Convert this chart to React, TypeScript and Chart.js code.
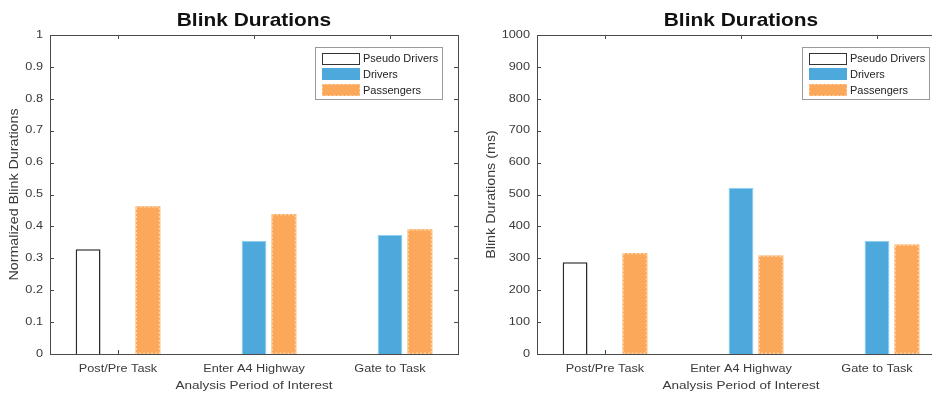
import React, { useEffect, useRef } from "react";
import { Chart, registerables } from "chart.js";
Chart.register(...registerables);

const categories = ["Post/Pre Task", "Enter A4 Highway", "Gate to Task"];
const seriesNames = ["Pseudo Drivers", "Drivers", "Passengers"];

const normPseudo = [0.328, 0, 0];
const normDrivers = [0, 0.355, 0.373];
const normPassengers = [0.463, 0.439, 0.391];
const normTicks = [0, 0.1, 0.2, 0.3, 0.4, 0.5, 0.6, 0.7, 0.8, 0.9, 1];

const msPseudo = [288, 0, 0];
const msDrivers = [0, 521, 355];
const msPassengers = [317, 309, 343];
const msTicks = [0, 100, 200, 300, 400, 500, 600, 700, 800, 900, 1000];

const titleText = "Blink Durations";
const xTitle = "Analysis Period of Interest";
const yTitleNorm = "Normalized Blink Durations";
const yTitleMs = "Blink Durations (ms)";

const FONT = '"Liberation Sans", Arial, Helvetica, sans-serif';
const TEXT = "#3a3a3a";
const AXIS = "#4a4a4a";
const BLUE = "#4DA9DB";
const ORANGE = "#FBA85B";
const ORANGE_EDGE = "#FFD3A6";

function drawText(
  ctx: CanvasRenderingContext2D,
  text: string,
  x: number,
  y: number,
  font: string,
  sx: number,
  align: CanvasTextAlign,
  rotate = false
) {
  ctx.save();
  ctx.translate(x, y);
  if (rotate) ctx.rotate(-Math.PI / 2);
  ctx.scale(sx, 1);
  ctx.font = font;
  ctx.textAlign = align;
  ctx.textBaseline = "middle";
  ctx.fillText(text, 0, 0);
  ctx.restore();
}

function decorPlugin(yTitle: string, yTitleX: number) {
  return {
    id: "matlabDecor",
    beforeDatasetsDraw(chart: any) {
      const ctx = chart.ctx;
      const a = chart.chartArea;
      ctx.save();
      ctx.strokeStyle = AXIS;
      ctx.lineWidth = 1;
      ctx.strokeRect(
        Math.round(a.left) + 0.5,
        Math.round(a.top) + 0.5,
        Math.round(a.right - a.left),
        Math.round(a.bottom - a.top)
      );
      const ys = chart.scales.y;
      const tl = 4;
      ctx.beginPath();
      ys.ticks.forEach((t: any) => {
        const py = Math.round(ys.getPixelForValue(t.value)) + 0.5;
        ctx.moveTo(a.left, py);
        ctx.lineTo(a.left + tl, py);
        ctx.moveTo(a.right, py);
        ctx.lineTo(a.right - tl, py);
      });
      const xs = chart.scales.x;
      categories.forEach((_, i) => {
        const px = Math.round(xs.getPixelForTick(i)) + 0.5;
        ctx.moveTo(px, a.bottom);
        ctx.lineTo(px, a.bottom - tl);
        ctx.moveTo(px, a.top);
        ctx.lineTo(px, a.top + tl);
      });
      ctx.stroke();
      ctx.restore();
    },
    afterDatasetsDraw(chart: any) {
      const ctx = chart.ctx;
      const meta = chart.getDatasetMeta(2);
      ctx.save();
      ctx.strokeStyle = ORANGE_EDGE;
      ctx.lineWidth = 1.5;
      ctx.setLineDash([2, 2]);
      meta.data.forEach((el: any) => {
        const p = el.getProps(["x", "y", "base", "width"], true);
        const l = p.x - p.width / 2;
        const top = Math.min(p.y, p.base);
        const h = Math.abs(p.base - p.y);
        if (h > 0) ctx.strokeRect(l + 0.75, top + 0.75, p.width - 1.5, h - 1.5);
      });
      ctx.restore();
    },
    afterDraw(chart: any) {
      const ctx = chart.ctx;
      const a = chart.chartArea;
      const cx = (a.left + a.right) / 2;
      const tickFont = `10px ${FONT}`;
      ctx.save();
      // tick labels
      ctx.fillStyle = TEXT;
      const ys = chart.scales.y;
      ys.ticks.forEach((t: any) => {
        drawText(ctx, String(t.value), a.left - 7, ys.getPixelForValue(t.value), tickFont, 1.27, "right");
      });
      const xs = chart.scales.x;
      categories.forEach((c, i) => {
        drawText(ctx, c, xs.getPixelForTick(i), 369.5, tickFont, 1.27, "center");
      });
      // title
      ctx.fillStyle = "#111";
      drawText(ctx, titleText, cx, 21, `bold 19px ${FONT}`, 1.1, "center");
      // x title
      ctx.fillStyle = TEXT;
      drawText(ctx, xTitle, cx, 386, `11px ${FONT}`, 1.23, "center");
      // y title
      drawText(ctx, yTitle, yTitleX, (a.top + a.bottom) / 2, `12px ${FONT}`, 1.19, "center", true);
      // legend
      const lw = 127;
      const lh = 52;
      const lx = a.right - 16 - lw;
      const ly = a.top + 12;
      ctx.fillStyle = "#fff";
      ctx.fillRect(lx, ly, lw, lh);
      ctx.strokeStyle = "#9a9a9a";
      ctx.lineWidth = 1;
      ctx.strokeRect(Math.round(lx) + 0.5, Math.round(ly) + 0.5, lw, lh);
      const rows = [ly + 11.5, ly + 27, ly + 43];
      const sx = lx + 7;
      const sw = 38;
      const sh = 12;
      rows.forEach((ry, i) => {
        const top = Math.round(ry - sh / 2);
        if (i === 0) {
          ctx.fillStyle = "#fff";
          ctx.fillRect(sx, top, sw, sh);
          ctx.strokeStyle = "#333";
          ctx.strokeRect(sx + 0.5, top + 0.5, sw - 1, sh - 1);
        } else if (i === 1) {
          ctx.fillStyle = BLUE;
          ctx.fillRect(sx, top, sw, sh);
        } else {
          ctx.fillStyle = ORANGE;
          ctx.fillRect(sx, top, sw, sh);
          ctx.save();
          ctx.strokeStyle = ORANGE_EDGE;
          ctx.setLineDash([2, 2]);
          ctx.strokeRect(sx + 0.5, top + 0.5, sw - 1, sh - 1);
          ctx.restore();
        }
        ctx.fillStyle = "#222";
        drawText(ctx, seriesNames[i], sx + sw + 3, ry + 0.5, `11px ${FONT}`, 1, "left");
      });
      ctx.restore();
    },
  };
}

function makeConfig(
  pseudo: number[],
  drivers: number[],
  passengers: number[],
  ticks: number[],
  yAxisWidth: number,
  yTitle: string,
  yTitleX: number
): any {
  return {
    type: "bar",
    data: {
      labels: categories,
      datasets: [
        {
          label: seriesNames[0],
          data: pseudo,
          backgroundColor: "#ffffff",
          borderColor: "#2a2a2a",
          borderWidth: 1.5,
          categoryPercentage: 0.66,
          barPercentage: 0.83,
        },
        {
          label: seriesNames[1],
          data: drivers,
          backgroundColor: BLUE,
          borderColor: "#8fd0f2",
          borderWidth: 1,
          categoryPercentage: 0.66,
          barPercentage: 0.83,
        },
        {
          label: seriesNames[2],
          data: passengers,
          backgroundColor: ORANGE,
          borderWidth: 0,
          categoryPercentage: 0.66,
          barPercentage: 0.83,
        },
      ],
    },
    options: {
      responsive: false,
      animation: false,
      devicePixelRatio: 1,
      layout: { padding: { top: 35, right: 8, left: 0, bottom: 0 } },
      plugins: {
        legend: { display: false },
        title: { display: false },
        tooltip: { enabled: false },
      },
      scales: {
        x: {
          grid: { display: false, drawTicks: false },
          border: { display: false },
          ticks: { display: false },
          afterFit: (s: any) => {
            s.height = 42;
          },
        },
        y: {
          min: ticks[0],
          max: ticks[ticks.length - 1],
          grid: { display: false, drawTicks: false },
          border: { display: false },
          ticks: { display: false },
          afterBuildTicks: (s: any) => {
            s.ticks = ticks.map((v) => ({ value: v }));
          },
          afterFit: (s: any) => {
            s.width = yAxisWidth;
          },
        },
      },
    },
    plugins: [decorPlugin(yTitle, yTitleX)],
  };
}

export default function App() {
  const leftRef = useRef<HTMLCanvasElement>(null);
  const rightRef = useRef<HTMLCanvasElement>(null);

  useEffect(() => {
    const c1 = new Chart(
      leftRef.current as HTMLCanvasElement,
      makeConfig(normPseudo, normDrivers, normPassengers, normTicks, 50, yTitleNorm, 15)
    );
    const c2 = new Chart(
      rightRef.current as HTMLCanvasElement,
      makeConfig(msPseudo, msDrivers, msPassengers, msTicks, 71, yTitleMs, 26)
    );
    return () => {
      c1.destroy();
      c2.destroy();
    };
  }, []);

  return (
    <div
      style={{
        position: "fixed",
        left: 0,
        top: 0,
        width: 932,
        height: 396,
        overflow: "hidden",
        background: "#fff",
      }}
    >
      <canvas
        ref={leftRef}
        width={466}
        height={396}
        style={{ position: "absolute", left: 0, top: 0, width: 466, height: 396 }}
      />
      <canvas
        ref={rightRef}
        width={487}
        height={396}
        style={{ position: "absolute", left: 466, top: 0, width: 487, height: 396 }}
      />
    </div>
  );
}
